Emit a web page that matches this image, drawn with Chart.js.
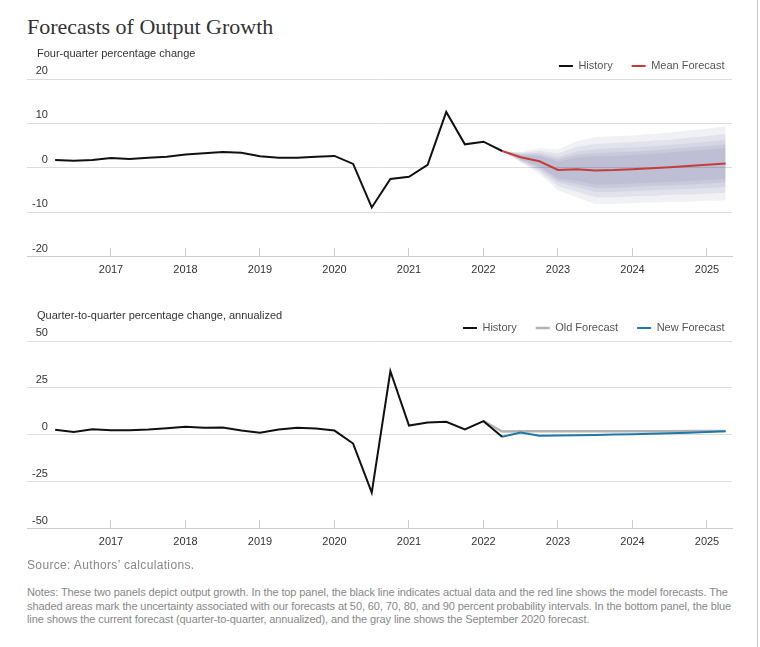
<!DOCTYPE html>
<html>
<head>
<meta charset="utf-8">
<script src="https://cdn.jsdelivr.net/npm/chart.js@4.4.1/dist/chart.umd.min.js"></script>
<style>
  body { margin: 0; background: #fff; width: 760px; height: 647px; position: relative; overflow: hidden;
         font-family: 'Liberation Sans', Arial, sans-serif; }
  .abs { position: absolute; }
  #title { left: 27px; top: 16px; font: 22px 'Liberation Serif', 'Times New Roman', serif; color: #333; line-height: 22px; white-space: nowrap; }
  .sub { left: 37px; font-size: 11px; color: #333; line-height: 13px; white-space: nowrap; }
  .foot { left: 27px; font-family: 'Liberation Sans', Arial, sans-serif; color: #888; line-height: 13.5px; white-space: nowrap; }
  #src { top: 559px; font-size: 12px; letter-spacing: 0.35px; }
  #notes { top: 586px; font-size: 11px; letter-spacing: -0.1px; }
  #edge { left: 757px; top: 0; width: 1px; height: 647px; background: #c8c8c8; }
</style>
</head>
<body>
<div id="title" class="abs">Forecasts of Output Growth</div>
<canvas id="topChart" class="abs" style="left:0;top:40px" width="760" height="255"></canvas>
<canvas id="botChart" class="abs" style="left:0;top:300px" width="760" height="267"></canvas>
<div class="abs sub" style="top:47px">Four-quarter percentage change</div>
<div class="abs sub" style="top:309px">Quarter-to-quarter percentage change, annualized</div>
<div id="src" class="abs foot">Source: Authors’ calculations.</div>
<div id="notes" class="abs foot">Notes: These two panels depict output growth. In the top panel, the black line indicates actual data and the red line shows the model forecasts. The<br>shaded areas mark the uncertainty associated with our forecasts at 50, 60, 70, 80, and 90 percent probability intervals. In the bottom panel, the blue<br>line shows the current forecast (quarter-to-quarter, annualized), and the gray line shows the September 2020 forecast.</div>
<div id="edge" class="abs"></div>
<script>
// quarters 2016Q1 .. 2025Q1, plotted at quarter end
const quarters = [
  '2016Q1','2016Q2','2016Q3','2016Q4','2017Q1','2017Q2','2017Q3','2017Q4',
  '2018Q1','2018Q2','2018Q3','2018Q4','2019Q1','2019Q2','2019Q3','2019Q4',
  '2020Q1','2020Q2','2020Q3','2020Q4','2021Q1','2021Q2','2021Q3','2021Q4',
  '2022Q1','2022Q2','2022Q3','2022Q4','2023Q1','2023Q2','2023Q3','2023Q4',
  '2024Q1','2024Q2','2024Q3','2024Q4','2025Q1'
];
const yearTicks = [2017, 2018, 2019, 2020, 2021, 2022, 2023, 2024, 2025];

// top panel: four-quarter change
const fourQtrHistory = [1.8, 1.6, 1.8, 2.2, 2.0, 2.3, 2.5, 3.0, 3.3, 3.6, 3.4, 2.6, 2.3,
                        2.3, 2.5, 2.7, 0.9, -8.9, -2.5, -2.0, 0.7, 12.6, 5.3, 5.9, 3.8]; // 2016Q1-2022Q1
const fourQtrMean = [3.8, 2.4, 1.5, -0.45, -0.3, -0.6, -0.5, -0.3, -0.1, 0.15, 0.4, 0.7, 1.0]; // 2022Q1-2025Q1
// half widths of probability bands around the mean
const band90 = [0, 1.2, 2.9, 4.6, 6.3, 7.5, 7.6, 7.6, 7.7, 7.8, 8.0, 8.1, 8.3];
const band80 = [0, 1.0, 2.3, 3.7, 5.0, 6.0, 6.1, 6.1, 6.2, 6.2, 6.4, 6.5, 6.6];
const band70 = [0, 0.8, 1.9, 2.9, 4.0, 4.8, 4.9, 4.9, 4.9, 5.0, 5.1, 5.2, 5.3];
const band60 = [0, 0.6, 1.5, 2.4, 3.3, 3.9, 4.0, 4.0, 4.0, 4.1, 4.2, 4.2, 4.3];
const band50 = [0, 0.5, 1.2, 1.9, 2.6, 3.2, 3.2, 3.2, 3.2, 3.3, 3.4, 3.4, 3.5];

// bottom panel: quarter-to-quarter, annualized
const qoqHistory = [2.8, 1.6, 3.0, 2.5, 2.5, 2.9, 3.6, 4.3, 3.8, 3.9, 2.3, 1.2, 2.9,
                    3.8, 3.4, 2.3, -4.6, -30.7, 33.9, 5.0, 6.6, 7.0, 2.9, 7.3, -1.0]; // 2016Q1-2022Q1
const qoqOld = [7.3, 1.8, 1.9, 1.9, 1.9, 1.9, 1.9, 2.0, 2.0, 2.0, 2.0, 2.1, 2.1, 2.1]; // 2021Q4-2025Q1
const qoqNew = [-1.0, 1.3, -0.4, -0.3, -0.2, 0.0, 0.2, 0.4, 0.6, 0.9, 1.2, 1.5, 1.9];  // 2022Q1-2025Q1

Chart.defaults.font.family = "'Liberation Sans', Arial, sans-serif";
Chart.defaults.font.size = 11;
Chart.defaults.color = '#333';

function qx(q) { return Number(q.slice(0, 4)) + Number(q.slice(5)) / 4; }
function pts(vals, start) { return vals.map((v, i) => ({ x: qx(quarters[start + i]), y: v })); }

function line(label, data, color, width) {
  return { label, data, borderColor: color, backgroundColor: color, borderWidth: width,
           pointRadius: 0, tension: 0, fill: false };
}

function options(yMin, yMax, step, padTop) {
  return {
    responsive: false,
    animation: false,
    layout: { padding: { left: 17, right: 16.5, top: padTop, bottom: 2 } },
    plugins: {
      tooltip: { enabled: false },
      legend: {
        position: 'top', align: 'end', maxHeight: 37.5,
        labels: { usePointStyle: true, pointStyle: 'line', pointStyleWidth: 14, padding: 19,
                  color: '#555', font: { size: 11 }, filter: it => !!it.text }
      }
    },
    scales: {
      x: {
        type: 'linear', min: 2015.8725, max: 2025.3356,
        afterBuildTicks: s => { s.ticks = yearTicks.map(v => ({ value: v })); },
        ticks: { callback: v => String(v), padding: 16, maxRotation: 0, autoSkip: false },
        grid: { drawOnChartArea: false, drawTicks: true, tickLength: -9, color: '#ccc' },
        border: { color: '#ccc' }
      },
      y: {
        min: yMin, max: yMax,
        ticks: { stepSize: step, mirror: true, crossAlign: 'far', padding: 5, labelOffset: -8 },
        grid: { color: '#dcdcdc', drawTicks: false },
        border: { display: false }
      },
      pad: {
        type: 'linear', position: 'right',
        ticks: { display: false }, grid: { display: false }, border: { display: false },
        afterFit: s => { s.width = 11.5; }
      }
    }
  };
}

// fan bands, widest first
const fan = [band90, band80, band70, band60, band50];
const fanSets = [];
fan.forEach(hw => {
  fanSets.push({ label: '', data: pts(fourQtrMean.map((m, i) => m + hw[i]), 24), borderWidth: 0,
                 pointRadius: 0, tension: 0, fill: '+1', backgroundColor: 'rgba(60,70,130,0.08)' });
  fanSets.push({ label: '', data: pts(fourQtrMean.map((m, i) => m - hw[i]), 24), borderWidth: 0,
                 pointRadius: 0, tension: 0, fill: false });
});

new Chart(document.getElementById('topChart'), {
  type: 'line',
  data: {
    datasets: [
      line('History', pts(fourQtrHistory, 0), '#111', 2),
      line('Mean Forecast', pts(fourQtrMean, 24), '#c43d3b', 2),
      ...fanSets
    ]
  },
  options: options(-20, 20, 10, 1.5)
});

new Chart(document.getElementById('botChart'), {
  type: 'line',
  data: {
    datasets: [
      line('History', pts(qoqHistory, 0), '#111', 2),
      line('New Forecast', pts(qoqNew, 24), '#1f78a8', 2),
      line('Old Forecast', pts(qoqOld, 23), '#b3b3b3', 2.5)
    ]
  },
  options: (() => {
    const o = options(-50, 50, 25, 3.5);
    // legend order: History, Old Forecast, New Forecast
    o.plugins.legend.labels.sort = (a, b) => {
      const order = ['History', 'Old Forecast', 'New Forecast'];
      return order.indexOf(a.text) - order.indexOf(b.text);
    };
    return o;
  })()
});
</script>
</body>
</html>
